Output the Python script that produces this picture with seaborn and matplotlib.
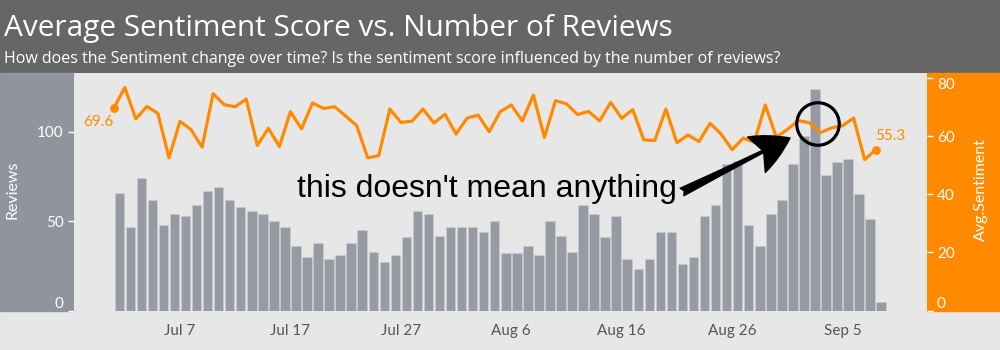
import numpy as np
import pandas as pd
import matplotlib
matplotlib.use("Agg")
import matplotlib.pyplot as plt
import seaborn as sns
from matplotlib.patches import Rectangle, Ellipse, FancyArrowPatch

# ---------------- data ----------------
start_date = "2019-07-01"
reviews = [66, 47, 74, 62, 48, 54, 53, 59, 67, 69,
           62, 58, 56, 54, 50, 47, 36, 30, 38, 29,
           31, 38, 45, 33, 27, 31, 41, 56, 54, 42,
           47, 47, 47, 44, 50, 32, 32, 36, 31, 50,
           42, 33, 59, 54, 41, 53, 29, 23, 29, 44,
           44, 26, 30, 53, 59, 82, 84, 48, 36, 54,
           62, 82, 98, 124, 76, 83, 85, 65, 51, 5]
sentiment = [69.6, 76.7, 65.9, 70.2, 67.8, 52.5, 65.1, 62.2, 56.2, 74.6,
             70.8, 70.1, 72.7, 56.8, 62.7, 56.4, 68.4, 62.5, 71.4, 69.5,
             70.1, 66.9, 63.6, 52.5, 53.3, 69.3, 64.7, 65.1, 69.3, 64.5,
             67.5, 60.7, 66.2, 67.2, 61.5, 68.4, 70.7, 65.2, 74.1, 59.5,
             72.2, 71.1, 67.4, 68.5, 65.2, 71.6, 66.1, 69.1, 58.7, 58.5,
             69.3, 57.7, 60.4, 58.1, 64.4, 60.7, 55.3, 59.3, 57.9, 70.7,
             59.6, 62.3, 65.3, 64.6, 61.2, 62.8, 63.6, 66.2, 51.9, 55.3]
tick_dates = ["2019-07-07", "2019-07-17", "2019-07-27", "2019-08-06",
              "2019-08-16", "2019-08-26", "2019-09-05"]
tick_labels = ["Jul 7", "Jul 17", "Jul 27", "Aug 6", "Aug 16", "Aug 26", "Sep 5"]
left_ticks = [0, 50, 100]
right_ticks = [0, 20, 40, 60, 80]
title = "Average Sentiment Score vs. Number of Reviews"
subtitle = ("How does the Sentiment change over time? Is the sentiment score "
            "influenced by the number of reviews?")
annotation_text = "this doesn't mean anything"

# ---------------- styling ----------------
ORANGE = "#ff8a00"
BAR = "#969ba3"
PANEL = "#90959d"
HEADER = "#666666"
BG = "#e7e7e7"

sns.set_style("white")
plt.rcParams["font.family"] = ["Lato", "DejaVu Sans"]

dates = pd.date_range(start_date, periods=len(reviews), freq="D")
day = np.asarray((dates - dates[0]).days, dtype=float)
df = pd.DataFrame({"day": day, "bar_x": day + 0.5,
                   "Reviews": reviews, "Sentiment": sentiment})
tick_pos = [(pd.Timestamp(d) - dates[0]).days for d in tick_dates]

fig = plt.figure(figsize=(10, 3.5), dpi=100, facecolor=BG)
ax_left, ax_bottom, ax_right, ax_top = 0.074, 39.5 / 350, 0.9265, 1 - 73 / 350
ax = fig.add_axes([ax_left, ax_bottom, ax_right - ax_left, ax_top - ax_bottom])
ax.set_facecolor(BG)

# background panels
fig.add_artist(Rectangle((0, ax_top), 1, 1 - ax_top, transform=fig.transFigure,
                         color=HEADER, zorder=-1))
fig.add_artist(Rectangle((0, ax_bottom), ax_left, ax_top - ax_bottom,
                         transform=fig.transFigure, color=PANEL, zorder=-1))
fig.add_artist(Rectangle((ax_right, ax_bottom), 1 - ax_right, ax_top - ax_bottom,
                         transform=fig.transFigure, color=ORANGE, zorder=-1))

# bars
sns.barplot(data=df, x="bar_x", y="Reviews", native_scale=True, color=BAR,
            saturation=1, width=0.86, edgecolor="#c9ccd1", linewidth=0.4, ax=ax)
ax.axhline(0, color="#c4c4c4", lw=1, ls=(0, (1, 2.5)), zorder=0)

# line on twin axis
ax2 = ax.twinx()
sns.lineplot(data=df, x="day", y="Sentiment", color=ORANGE, linewidth=2.3,
             ax=ax2)
ends = df.iloc[[0, -1]]
ax2.scatter(ends["day"], ends["Sentiment"], s=28, color=ORANGE, zorder=5)
ax2.annotate(f"{sentiment[0]:.1f}", (df["day"].iloc[0], sentiment[0]),
             xytext=(-11.5, -9.7), textcoords="offset points", color=ORANGE,
             fontsize=11, ha="center", va="center")
ax2.annotate(f"{sentiment[-1]:.1f}", (df["day"].iloc[-1], sentiment[-1]),
             xytext=(10.8, 9.6), textcoords="offset points", color=ORANGE,
             fontsize=11, ha="center", va="center")

# axes limits / ticks
ax.set_xlim(-3.6, 73.6)
ax.set_ylim(0, 133)
ax2.set_ylim(0, 81.7)
ax.set_xticks(tick_pos)
ax.set_xticklabels(tick_labels)
ax.set_xticks(np.arange(0, 71), minor=True)
ax.tick_params(axis="x", which="major", colors="#bbbbbb", labelcolor="#555555",
               labelsize=11, length=3, pad=7)
ax.tick_params(axis="x", which="minor", colors="#cfcfcf", length=1.5)
ax.set_yticks(left_ticks)
ax.tick_params(axis="y", colors="white", labelcolor="white", labelsize=11,
               length=4.5, width=1, pad=3)
ax2.set_yticks(right_ticks)
ax2.tick_params(axis="y", colors="white", labelcolor="white", labelsize=11,
                length=4.5, width=1, pad=3)
for a in (ax, ax2):
    for s in a.spines.values():
        s.set_visible(False)
    a.set_xlabel("")
    a.set_ylabel("")

ax.yaxis.get_major_ticks()[0].label1.set_va("bottom")
ax2.yaxis.get_major_ticks()[0].label2.set_va("bottom")
ax2.yaxis.get_major_ticks()[-1].label2.set_va("top")

# axis titles
fig.text(12 / 1000, 1 - 190 / 350, "Reviews", rotation=90, color="white",
         fontsize=11.5, ha="center", va="center")
fig.text(980.5 / 1000, 1 - 190 / 350, "Avg.Sentiment", rotation=90,
         color="white", fontsize=11.5, ha="center", va="center")

# header text
fig.text(4 / 1000, 1 - 36 / 350, title, color="white", fontsize=21.4,
         family=["Open Sans", "DejaVu Sans"], ha="left", va="baseline")
fig.text(4 / 1000, 1 - 63.3 / 350, subtitle, color="white", fontsize=11.5,
         family=["Open Sans", "DejaVu Sans"], ha="left", va="baseline")

# annotation
fig.text(297 / 1000, 1 - 189 / 350, annotation_text, color="black",
         fontsize=23, family=["Liberation Sans", "DejaVu Sans"],
         ha="left", va="center")
fig.add_artist(FancyArrowPatch((682 / 1000, 1 - 192 / 350),
                               (790 / 1000, 1 - 138 / 350),
                               transform=fig.transFigure,
                               arrowstyle="fancy,head_length=0.9,head_width=0.95,tail_width=0.2",
                               mutation_scale=30, color="black",
                               shrinkA=0, shrinkB=0, zorder=10))
fig.add_artist(Ellipse((818 / 1000, 1 - 124 / 350), 42.5 / 1000, 42.5 / 350,
                       transform=fig.transFigure, fill=False,
                       edgecolor="black", linewidth=2.3, zorder=10))

fig.savefig("out.png", dpi=100, facecolor=BG)
